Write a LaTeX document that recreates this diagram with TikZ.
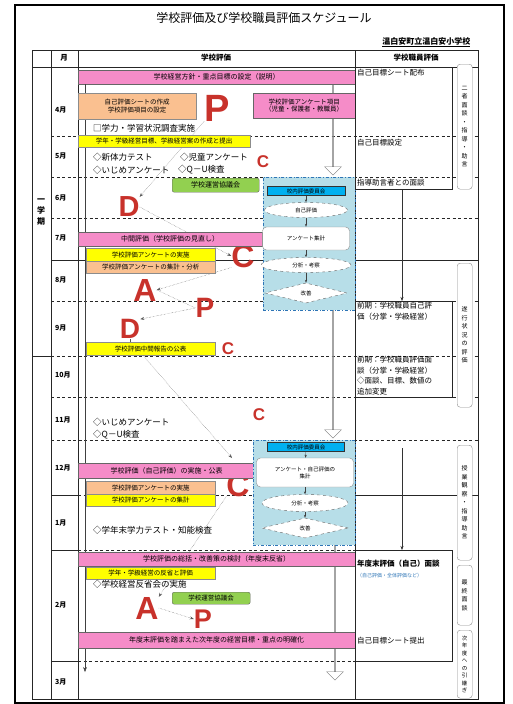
\documentclass[tikz,border=0pt]{standalone}
\usepackage{fontspec}
\setmainfont{Noto Sans CJK JP}
\newfontfamily\latinfont{Liberation Sans}
\usetikzlibrary{arrows.meta,shapes.geometric,shapes.arrows}

\definecolor{barpink}{HTML}{F58CC8}
\definecolor{baryellow}{HTML}{FFFF00}
\definecolor{barorange}{HTML}{FAC090}
\definecolor{bargreen}{HTML}{92D050}
\definecolor{flowbg}{HTML}{B7DEE8}
\definecolor{flowedge}{HTML}{2E75B6}
\definecolor{flowtop}{HTML}{00B0F0}
\definecolor{cyclered}{HTML}{C8322B}

\tikzset{
  grid/.style={line width=0.8pt, black!85},
  rowdash/.style={grid, dash pattern=on 3pt off 2.5pt},
  bar/.style={draw=black!60, inner sep=0pt, anchor=north west, font=\fontsize{6.5}{7.5}\selectfont},
  pinkbar/.style={bar, fill=barpink, font=\fontsize{7}{8}\selectfont},
  yellowbar/.style={bar, fill=baryellow, draw=black!45},
  orangebar/.style={bar, fill=barorange, draw=black!45},
  greenbox/.style={bar, fill=bargreen, rounded corners=2pt},
  note/.style={anchor=west, inner sep=0pt, font=\fontsize{8.5}{9}\selectfont},
  stafftext/.style={anchor=west, inner sep=0pt, align=left, font=\fontsize{7.5}{10.5}\selectfont},
  month/.style={anchor=west, inner sep=0pt, font=\bfseries\fontsize{7}{8}\selectfont},
  head/.style={font=\bfseries\fontsize{7.5}{8}\selectfont},
  flowarea/.style={draw=flowedge, dash dot, fill=flowbg, anchor=north west, inner sep=0pt},
  flowhead/.style={draw=black!80, fill=flowtop, inner sep=0pt, font=\fontsize{5.5}{6}\selectfont},
  flowell/.style={ellipse, draw=black!60, dashed, fill=white, inner sep=0pt, font=\fontsize{5.5}{6}\selectfont},
  flowbox/.style={draw=black!45, fill=white, rounded corners=4pt, inner sep=0pt, align=center, font=\fontsize{5.5}{7}\selectfont},
  flowdia/.style={diamond, draw=black!60, dashed, fill=white, inner sep=0pt, shape aspect=4, font=\fontsize{5.5}{6}\selectfont},
  flowlink/.style={black!75, -{Stealth[length=3pt]}},
  hollow/.style={single arrow, draw=black!55, fill=white, inner sep=0pt, minimum width=17pt, single arrow head extend=4pt, rotate=-90},
  staffbox/.style={draw=black!85, line width=0.8pt, anchor=north west, inner sep=0pt},
  vlabel/.style={draw=black!45, fill=white, rounded corners=3pt, minimum width=15pt, inner sep=1pt, anchor=north west, align=center, font=\fontsize{6}{8.5}\selectfont},
  cyclebig/.style={text=cyclered, inner sep=0pt, font=\latinfont\bfseries\fontsize{32}{32}\selectfont},
  cyclesmall/.style={text=cyclered, inner sep=0pt, font=\latinfont\bfseries\fontsize{17}{17}\selectfont},
  cyclelink/.style={black!65, densely dotted, -{Stealth[length=4pt]}},
}

\begin{document}
\begin{tikzpicture}[x=1pt,y=-1pt]
  \useasboundingbox (0,0) rectangle (512,704);
  % frame and title
  \draw[line width=1.5pt] (15,5) rectangle (504,703);
  \node[font=\fontsize{12}{13}\selectfont] (title) at (264,18) {学校評価及び学校職員評価スケジュール};
  \node[anchor=east, font=\bfseries\fontsize{8}{9}\selectfont] (school) at (474,42) {\underline{温白安町立温白安小学校}};

  % table
  \draw[grid] (32,50) rectangle (478,699);
  \draw[grid] (32,67) -- (478,67);
  \foreach \x in {51,78,355}
    \draw[grid] (\x,50) -- (\x,699);
  \node[head] (hmonth) at (64,58) {月};
  \node[head] (hschool) at (216,58) {学校評価};
  \node[head] (hstaff) at (416,58) {学校職員評価};

  % month rows
  \foreach \y in {136,177,218,301,356,397,440}
    \draw[rowdash] (51,\y) -- (478,\y);
  \draw[grid] (51,260) -- (478,260);
  \foreach \y in {495,550,661} {
    \draw[grid] (51,\y) -- (78,\y);
    \draw[rowdash] (78,\y) -- (355,\y);
  }
  \draw[grid] (355,495) -- (478,495);
  \draw[grid] (32,356) -- (51,356);
  \node[font=\bfseries\fontsize{8}{11}\selectfont, align=center] (term1) at (41,212) {一\\学\\期};
  \node[month] (m4) at (55,110) {4月};
  \node[month] (m5) at (55,156) {5月};
  \node[month] (m6) at (55,198) {6月};
  \node[month] (m7) at (55,238) {7月};
  \node[month] (m8) at (55,280) {8月};
  \node[month] (m9) at (55,328) {9月};
  \node[month] (m10) at (55,375) {10月};
  \node[month] (m11) at (55,420) {11月};
  \node[month] (m12) at (55,468) {12月};
  \node[month] (m1) at (55,523) {1月};
  \node[month] (m2) at (55,605) {2月};
  \node[month] (m3) at (55,682) {3月};

  % PDCA letters
  \node[cyclebig, font=\latinfont\bfseries\fontsize{38}{38}\selectfont] (planA) at (217,108) {P};
  \node[cyclebig, font=\latinfont\bfseries\fontsize{29}{29}\selectfont] (doA) at (129,207) {D};
  \node[cyclebig] (checkA) at (243,256) {C};
  \node[cyclebig] (actA) at (145,290) {A};
  \node[cyclebig, font=\latinfont\bfseries\fontsize{28}{28}\selectfont] (planB) at (205,308) {P};
  \node[cyclebig, font=\latinfont\bfseries\fontsize{28}{28}\selectfont] (doB) at (130,329) {D};
  \node[cyclesmall] (checkMay) at (263,162) {C};
  \node[cyclesmall] (checkSep) at (228,349) {C};
  \node[cyclesmall] (checkNov) at (259,415) {C};
  \node[cyclebig] (checkB) at (238,485) {C};
  \node[cyclebig] (actB) at (147,608) {A};
  \node[cyclebig, font=\latinfont\bfseries\fontsize{27}{27}\selectfont] (planC) at (203,619) {P};

  % year arrows
  \coordinate (yearline) at (85,672);
  \node[hollow, minimum height=91pt] (flow1) at (333,129.5) {};
  \node[hollow, minimum height=128pt] (flow2) at (333,374) {};
  \node[hollow, minimum height=135pt] (flow3) at (335,612.5) {};

  % cycle connectors
  \draw[cyclelink] (planA.south west) -- (doA.north east);
  \draw[cyclelink] (doA.east) -- (checkA.west);
  \draw[cyclelink] (checkA.south west) -- (actA.east);
  \draw[cyclelink] (actA.east) -- (planB.west) -- (doB.north east);
  \coordinate (evalin) at (232,458);
  \draw[cyclelink] (checkB.south west) -- (actB.north east);
  \draw[cyclelink] (actB.east) -- (planC.west);

  % school evaluation bars
  \node[pinkbar, minimum width=277pt, minimum height=14pt] (policy) at (78,70) {学校経営方針・重点目標の設定（説明）};
  \draw[black!75, -{Stealth[length=5pt]}] (policy.south -| yearline) -- (yearline);
  \node[orangebar, minimum width=118pt, minimum height=26pt, align=center] (sheet) at (78,93) {自己評価シートの作成\\学校評価項目の設定};
  \node[pinkbar, minimum width=102pt, minimum height=25pt, align=center, font=\fontsize{6.5}{7.5}\selectfont] (survey) at (253,93) {学校評価アンケート項目\\（児童・保護者・教職員）};
  \node[note] (study) at (93,128) {□学力・学習状況調査実施};
  \node[yellowbar, minimum width=172pt, minimum height=12pt] (classplan) at (78,135) {学年・学級経営目標、学級経営案の作成と提出};
  \node[note] (fitness) at (93,157) {◇新体力テスト};
  \node[note] (pupils) at (180,157) {◇児童アンケート};
  \node[note] (bullyA) at (93,170) {◇いじめアンケート};
  \node[note] (quA) at (178,170) {◇Q－U検査};
  \node[greenbox, minimum width=87pt, minimum height=14pt, font=\fontsize{7}{7.5}\selectfont] (councilA) at (172,178) {学校運営協議会};
  \node[pinkbar, minimum width=184pt, minimum height=14pt] (midterm) at (78,232) {中間評価（学校評価の見直し）};
  \node[yellowbar, minimum width=129pt, minimum height=13pt] (askA) at (86,248) {学校評価アンケートの実施};
  \node[orangebar, minimum width=129pt, minimum height=12pt] (sumA) at (86,261) {学校評価アンケートの集計・分析};
  \node[yellowbar, minimum width=129pt, minimum height=13pt] (report) at (86,342) {学校評価中間報告の公表};
  \draw[black!65] (doB.south) -- (report.north -| doB.south);
  \draw[cyclelink] ([xshift=57pt]report.south west) -- (evalin);
  \node[note] (bullyB) at (93,422) {◇いじめアンケート};
  \node[note] (quB) at (93,435) {◇Q－U検査};
  \node[pinkbar, minimum width=177pt, minimum height=15pt] (selfeval) at (78,463) {学校評価（自己評価）の実施・公表};
  \node[orangebar, minimum width=129pt, minimum height=13pt] (askB) at (86,481) {学校評価アンケートの実施};
  \node[yellowbar, minimum width=129pt, minimum height=12pt] (sumB) at (86,494) {学校評価アンケートの集計};
  \node[note] (yeartest) at (93,530) {◇学年末学力テスト・知能検査};
  \node[pinkbar, minimum width=277pt, minimum height=14pt] (review) at (78,552) {学校評価の総括・改善策の検討（年度末反省）};
  \node[yellowbar, minimum width=129pt, minimum height=12pt] (classreview) at (86,567) {学年・学級経営の反省と評価};
  \node[note] (meeting) at (93,584) {◇学校経営反省会の実施};
  \node[greenbox, minimum width=78pt, minimum height=12pt] (councilB) at (172,592) {学校運営協議会};
  \node[pinkbar, minimum width=277pt, minimum height=16pt] (nextyear) at (78,632) {年度末評価を踏まえた次年度の経営目標・重点の明確化};

  % evaluation committee, first term
  \node[flowarea, minimum width=92pt, minimum height=133pt] (evalA) at (263,177) {};
  \node[flowhead, minimum width=78pt, minimum height=9pt] (headA) at (306,191) {校内評価委員会};
  \node[flowell, minimum width=83pt, minimum height=15pt] (selfA) at (306,210) {自己評価};
  \node[flowbox, minimum width=87pt, minimum height=23pt] (countA) at (306,238.5) {アンケート集計};
  \node[flowell, minimum width=90pt, minimum height=15pt] (thinkA) at (306,265) {分析・考察};
  \node[flowdia, minimum width=82pt, minimum height=20pt] (fixA) at (306,293) {改善};
  \draw[flowlink] (headA) -- (selfA);
  \draw[flowlink] (selfA) -- (countA);
  \draw[flowlink] (countA) -- (thinkA);
  \draw[flowlink] (thinkA) -- (fixA);

  % evaluation committee, year end
  \node[flowarea, minimum width=102pt, minimum height=105pt] (evalB) at (253,440) {};
  \node[flowhead, minimum width=77pt, minimum height=9pt] (headB) at (306,447) {校内評価委員会};
  \node[flowbox, minimum width=97pt, minimum height=29pt] (countB) at (305,472.5) {アンケート・自己評価の\\集計};
  \node[flowell, minimum width=86pt, minimum height=17pt] (thinkB) at (305,503) {分析・考察};
  \node[flowdia, minimum width=87pt, minimum height=20pt] (fixB) at (305,528) {改善};
  \draw[flowlink] (headB) -- (countB);
  \draw[flowlink] (countB) -- (thinkB);
  \draw[flowlink] (thinkB) -- (fixB);

  % staff evaluation
  \node[staffbox, minimum width=97pt, minimum height=122pt] (staffA) at (355,67) {};
  \node[staffbox, minimum width=97pt, minimum height=96pt] (staffB) at (355,301) {};
  \node[staffbox, minimum width=97pt, minimum height=111pt] (staffC) at (355,550) {};
  \node[stafftext] (sheetout) at (357,73) {自己目標シート配布};
  \node[stafftext] (goal) at (357,143) {自己目標設定};
  \node[stafftext] (advice) at (357,183) {指導助言者との面談};
  \node[stafftext, anchor=north west] (firstself) at (357,302) {前期：学校職員自己評\\価（分掌・学級経営）};
  \node[stafftext, anchor=north west] (firsttalk) at (357,356) {前期：学校職員評価面\\談（分掌・学級経営）\\◇面談、目標、数値の\\追加変更};
  \node[stafftext, anchor=north west, font=\bfseries\fontsize{7.5}{9}\selectfont] (lasttalk) at (357,560) {年度末評価（自己）面談};
  \node[stafftext, anchor=north west, text=flowedge, font=\fontsize{5}{6}\selectfont] (lastnote) at (357,573) {（自己評価・全体評価など）};
  \node[stafftext] (sheetin) at (357,641) {自己目標シート提出};
  \coordinate (staffline) at (402,448);
  \draw[black!80, -{Stealth[length=4pt]}] (staffA.south -| staffline) -- (staffB.north -| staffline);
  \draw[black!80, -{Stealth[length=4pt]}] (staffline) -- (staffC.north -| staffline);

  \node[vlabel, minimum height=125pt] (talkA) at (457,64) {二\\者\\面\\談\\・\\指\\導\\・\\助\\言};
  \node[vlabel, minimum height=144pt] (progress) at (457,263) {遂\\行\\状\\況\\の\\評\\価};
  \node[vlabel, minimum height=115pt] (visit) at (457,445) {授\\業\\観\\察\\・\\指\\導\\助\\言};
  \node[vlabel, minimum height=60pt] (talkB) at (457,565) {最\\終\\面\\談};
  \node[vlabel, minimum height=68pt, font=\fontsize{5.5}{7.5}\selectfont] (handover) at (457,630) {次\\年\\度\\へ\\の\\引\\継\\ぎ};
\end{tikzpicture}
\end{document}
